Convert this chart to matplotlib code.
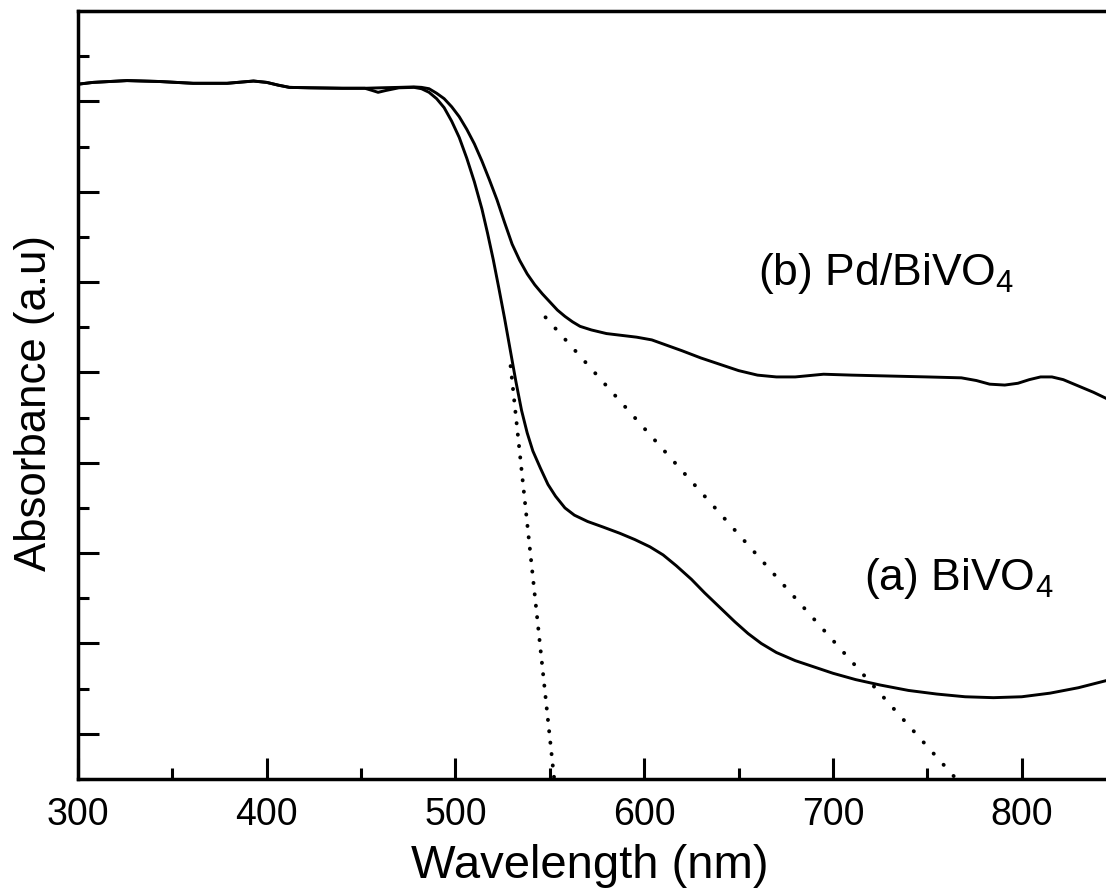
import matplotlib
matplotlib.use("Agg")
import matplotlib.pyplot as plt
from matplotlib.ticker import MultipleLocator, NullFormatter

plt.rcParams['font.family'] = ['Liberation Sans', 'DejaVu Sans']
plt.rcParams['mathtext.fontset'] = 'custom'
plt.rcParams['mathtext.rm'] = 'Liberation Sans'
plt.rcParams['mathtext.it'] = 'Liberation Sans:italic'
plt.rcParams['mathtext.bf'] = 'Liberation Sans:bold'

# shared flat region (both samples)
wl_flat = [300, 308, 326, 343, 361, 379, 393, 400, 406, 412, 423, 440, 452]
abs_flat = [7.69, 7.71, 7.73, 7.72, 7.70, 7.70, 7.725, 7.71, 7.68, 7.655, 7.65, 7.645, 7.645]

# Pd/BiVO4 (b)
wl_b = wl_flat + [460, 470, 478, 482, 486, 490, 494, 498, 502, 506, 510, 514, 518, 522, 526, 530,
                  534, 538, 542, 546, 550, 554, 558, 562, 566, 572, 580, 588, 596, 604, 612, 620,
                  630, 640, 650, 660, 670, 680, 695, 710, 730, 750, 768, 776, 783, 791, 798, 804,
                  810, 816, 822, 830, 838, 845]
abs_b = abs_flat + [7.65, 7.655, 7.66, 7.655, 7.64, 7.59, 7.53, 7.44, 7.33, 7.19, 7.03, 6.84, 6.63, 6.41, 6.16, 5.92,
                    5.74, 5.59, 5.47, 5.37, 5.28, 5.19, 5.12, 5.06, 5.01, 4.97, 4.93, 4.91, 4.89, 4.86, 4.80, 4.74,
                    4.66, 4.59, 4.52, 4.47, 4.45, 4.45, 4.48, 4.47, 4.46, 4.45, 4.44, 4.41, 4.37, 4.36, 4.38, 4.42,
                    4.45, 4.45, 4.42, 4.35, 4.28, 4.21]

# BiVO4 (a)
wl_a = wl_flat + [456, 459, 463, 470, 478, 482, 486, 490, 494, 498, 502, 506, 510, 514, 517, 520, 523,
                  526, 529, 532, 535, 538, 541, 545, 549, 553, 558, 563, 570, 578, 587, 595, 603, 610,
                  617, 625, 632, 640, 648, 655, 662, 670, 680, 690, 700, 712, 725, 740, 755, 770, 785,
                  800, 815, 830, 845]
abs_a = abs_flat + [7.62, 7.60, 7.62, 7.65, 7.655, 7.64, 7.60, 7.53, 7.43, 7.28, 7.10, 6.87, 6.61, 6.31, 6.04, 5.75, 5.43,
                    5.10, 4.75, 4.40, 4.08, 3.83, 3.63, 3.44, 3.26, 3.13, 3.00, 2.92, 2.85, 2.79, 2.72, 2.65, 2.57, 2.48,
                    2.36, 2.21, 2.06, 1.90, 1.74, 1.61, 1.50, 1.40, 1.31, 1.24, 1.17, 1.10, 1.04, 0.98, 0.94, 0.91, 0.90,
                    0.91, 0.95, 1.01, 1.09]

# tangent (band-edge) lines
tan_a_x = [529.2, 552.3]
tan_a_y = [4.57, 0.0]
tan_b_x = [547.7, 765.3]
tan_b_y = [5.11, 0.0]

fig = plt.figure(figsize=(11.06, 8.96), dpi=100)
ax = fig.add_axes([0.0705, 0.1306, 0.9395, 0.8571])

ax.plot(wl_b, abs_b, color='black', lw=2.1, solid_joinstyle='round', solid_capstyle='round')
ax.plot(wl_a, abs_a, color='black', lw=2.1, solid_joinstyle='round', solid_capstyle='round')
ax.plot(tan_a_x, tan_a_y, color='black', lw=2.8, linestyle=(0, (0.05, 2.9)), dash_capstyle='round')
ax.plot(tan_b_x, tan_b_y, color='black', lw=2.8, linestyle=(0, (0.05, 3.8)), dash_capstyle='round')

ax.set_xlim(300, 850.5)
ax.set_ylim(0, 8.5)

ax.xaxis.set_major_locator(MultipleLocator(100))
ax.xaxis.set_minor_locator(MultipleLocator(50))
ax.yaxis.set_major_locator(MultipleLocator(1, offset=0.5))
ax.yaxis.set_minor_locator(MultipleLocator(1))
ax.yaxis.set_major_formatter(NullFormatter())

ax.tick_params(which='major', direction='in', length=15, width=2.2, labelsize=27, pad=13)
ax.tick_params(which='minor', direction='in', length=8, width=2.2)
ax.tick_params(top=False, right=False, which='both')

for s in ['left', 'bottom', 'top']:
    ax.spines[s].set_linewidth(2.5)
ax.spines['right'].set_visible(False)

ax.set_xlabel('Wavelength (nm)', fontsize=34)
ax.set_ylabel('Absorbance (a.u)', fontsize=31.5)
ax.xaxis.set_label_coords(0.4928, -0.085)
ax.xaxis.label.set_va('top')
ax.yaxis.set_label_coords(-0.022, 0.489)

ax.text(660.2, 5.47, '(b) Pd/BiVO$_4$', fontsize=32, ha='left', va='baseline')
ax.text(716.4, 2.09, '(a) BiVO$_4$', fontsize=32, ha='left', va='baseline')

fig.savefig('out.png', dpi=100)
